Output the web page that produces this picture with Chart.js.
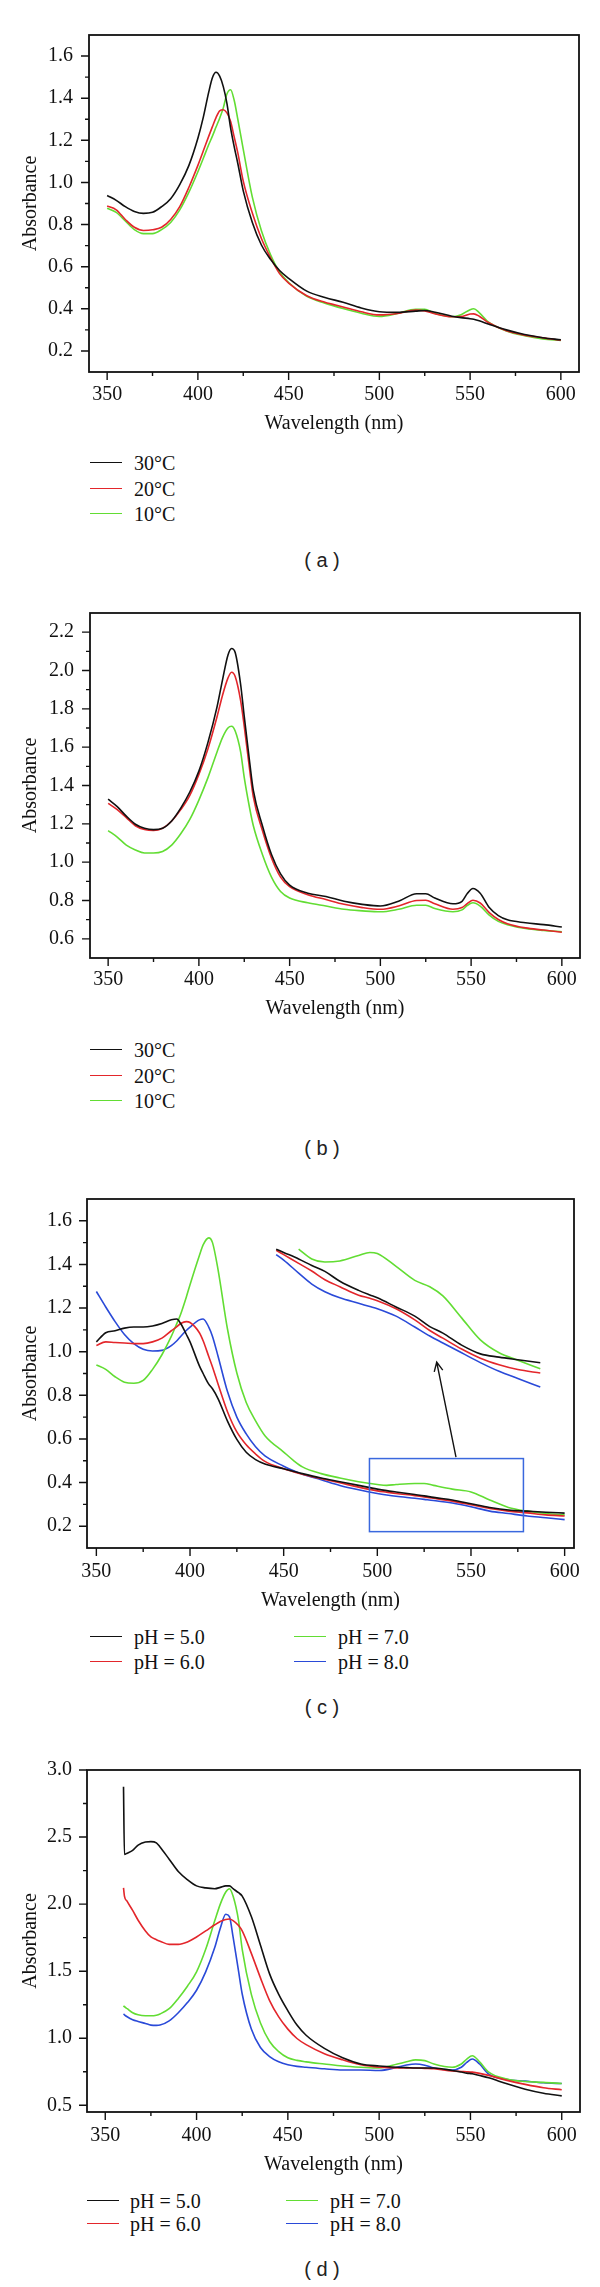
<!DOCTYPE html>
<html>
<head>
<meta charset="utf-8">
<script src="https://cdn.jsdelivr.net/npm/chart.js@4.4.1/dist/chart.umd.min.js"></script>
<style>
  body { margin: 0; background: #fff; }
  #page { position: relative; width: 600px; height: 2287px; overflow: hidden; font-family: "Liberation Serif", serif; color: #111; }
  canvas { position: absolute; left: 0; }
  .leg { position: absolute; font-size: 20px; line-height: 20px; white-space: nowrap; }
  .seg { position: absolute; height: 0; border-top: 1.5px solid; }
  .cap { position: absolute; left: 272px; width: 100px; text-align: center; font-family: "Liberation Sans", sans-serif; font-size: 20px; line-height: 24px; color: #222; }
</style>
</head>
<body>
<div id="page"></div>
<script>
// ---- data ----
const xTicks = [350, 400, 450, 500, 550, 600];
const yTicksA = [0.2, 0.4, 0.6, 0.8, 1.0, 1.2, 1.4, 1.6];
const yTicksB = [0.6, 0.8, 1.0, 1.2, 1.4, 1.6, 1.8, 2.0, 2.2];
const yTicksC = [0.2, 0.4, 0.6, 0.8, 1.0, 1.2, 1.4, 1.6];
const yTicksD = [0.5, 1.0, 1.5, 2.0, 2.5, 3.0];

const tempLabels = ['30°C', '20°C', '10°C'];
const phLabels = ['pH = 5.0', 'pH = 6.0', 'pH = 7.0', 'pH = 8.0'];

// (a)
const wlA = [350,355,360,365,370,375,380,385,390,395,400,403,406,408,410,412,414,416,418,420,422,425,430,435,440,445,450,460,470,480,490,500,510,520,525,530,540,545,550,552,555,560,570,580,590,600];
const a30 = [.938,.915,.885,.862,.853,.858,.885,.923,.99,1.08,1.21,1.31,1.43,1.497,1.523,1.505,1.455,1.375,1.26,1.17,1.09,.96,.81,.703,.635,.582,.545,.484,.454,.431,.404,.386,.383,.389,.392,.385,.365,.358,.353,.350,.343,.328,.300,.278,.263,.253];
const a20 = [.888,.87,.824,.787,.772,.775,.787,.824,.885,.976,1.081,1.15,1.22,1.265,1.308,1.34,1.345,1.33,1.29,1.216,1.14,1.006,.855,.734,.643,.567,.522,.462,.431,.409,.386,.371,.378,.394,.390,.378,.362,.363,.375,.376,.365,.335,.296,.275,.262,.251];
const a10 = [.877,.858,.817,.776,.757,.757,.776,.81,.87,.953,1.051,1.115,1.18,1.22,1.263,1.305,1.354,1.42,1.44,1.39,1.30,1.157,.93,.771,.658,.575,.525,.459,.427,.401,.379,.364,.378,.398,.398,.380,.362,.372,.396,.400,.382,.338,.295,.272,.257,.250];

// (b)
const wlB = [350,355,360,365,370,375,380,385,390,395,400,405,410,413,416,418,420,423,425,428,430,435,440,445,450,460,470,480,490,500,510,520,525,530,540,545,548,551,555,560,565,570,580,590,600];
const b30 = [1.329,1.29,1.24,1.198,1.177,1.17,1.177,1.215,1.282,1.366,1.475,1.625,1.81,1.95,2.08,2.115,2.094,1.927,1.759,1.52,1.374,1.19,1.04,.939,.88,.838,.821,.796,.78,.771,.796,.835,.835,.813,.783,.796,.838,.863,.838,.763,.721,.699,.684,.674,.662];
const b20 = [1.307,1.274,1.232,1.19,1.17,1.165,1.177,1.215,1.274,1.349,1.458,1.592,1.759,1.87,1.96,1.991,1.969,1.843,1.709,1.48,1.341,1.165,1.022,.922,.872,.83,.805,.78,.763,.754,.771,.80,.801,.783,.754,.763,.785,.801,.787,.737,.701,.679,.657,.646,.634];
const b10 = [1.165,1.131,1.089,1.064,1.048,1.048,1.056,1.089,1.148,1.223,1.324,1.441,1.575,1.65,1.70,1.709,1.684,1.575,1.441,1.28,1.19,1.04,.922,.847,.813,.788,.771,.754,.746,.741,.754,.775,.775,.758,.741,.751,.775,.788,.771,.724,.691,.674,.654,.644,.637];

// (c)
const wlC = [350,355,360,365,370,375,380,385,390,393,395,398,400,405,407,410,412,415,420,425,430,435,440,450,455,460,470,480,490,500,505,510,520,525,530,540,550,560,570,580,590,600];
const c5 = [1.045,1.087,1.096,1.108,1.113,1.113,1.118,1.129,1.146,1.15,1.129,1.08,1.045,.935,.9,.851,.83,.784,.682,.598,.539,.505,.485,.463,.452,.441,.421,.404,.387,.37,.363,.357,.345,.339,.332,.32,.303,.286,.274,.269,.264,.26];
const c6 = [1.028,1.045,1.042,1.04,1.037,1.037,1.045,1.062,1.096,1.115,1.129,1.138,1.134,1.087,1.05,.978,.93,.851,.725,.632,.573,.531,.497,.463,.45,.438,.418,.399,.379,.362,.356,.35,.34,.334,.328,.315,.298,.281,.269,.261,.252,.247];
const c7 = [.939,.919,.885,.86,.855,.868,.919,.986,1.07,1.13,1.172,1.25,1.307,1.441,1.49,1.522,1.5,1.374,1.104,.902,.767,.683,.615,.54,.503,.472,.441,.421,.404,.391,.387,.391,.396,.396,.387,.37,.357,.32,.286,.269,.258,.252];
const c8 = [1.276,1.205,1.138,1.079,1.037,1.011,1.003,1.006,1.028,1.05,1.07,1.097,1.113,1.146,1.15,1.113,1.07,.978,.817,.70,.623,.564,.522,.475,.455,.438,.413,.387,.367,.35,.343,.337,.328,.323,.318,.306,.289,.269,.258,.247,.239,.23];
// (c) magnified inset, read in main-axis units
const wlInset = [446,450,458,465,472,480,490,496,500,510,520,528,535,545,555,565,575,587];
const i5 = [1.47,1.455,1.425,1.395,1.368,1.323,1.281,1.26,1.247,1.205,1.163,1.115,1.085,1.03,.99,.975,.963,.949];
const i6 = [1.465,1.445,1.405,1.37,1.33,1.298,1.259,1.245,1.234,1.197,1.146,1.097,1.062,1.012,.97,.94,.918,.902];
const i7 = [null,null,1.47,1.425,1.411,1.416,1.441,1.455,1.45,1.391,1.327,1.298,1.256,1.155,1.054,.995,.961,.922];
const i8 = [1.445,1.42,1.36,1.31,1.275,1.247,1.222,1.207,1.197,1.163,1.113,1.072,1.04,.995,.95,.91,.877,.838];

// (d)
const wlD = [360,360.5,362,365,368,372,375,378,380,385,390,395,400,405,410,413,416,418,420,423,425,430,435,440,445,450,455,460,470,480,490,500,510,515,520,525,530,540,545,548,551,555,560,570,580,590,600];
const d5 = [2.875,2.371,2.38,2.40,2.44,2.463,2.466,2.457,2.426,2.335,2.243,2.182,2.136,2.121,2.115,2.125,2.136,2.136,2.115,2.085,2.06,1.907,1.694,1.48,1.327,1.205,1.098,1.022,.924,.854,.808,.793,.784,.781,.778,.778,.778,.76,.748,.74,.735,.722,.705,.66,.62,.59,.57];
const d6 = [2.121,2.06,2.02,1.953,1.88,1.80,1.755,1.735,1.724,1.70,1.70,1.718,1.755,1.80,1.846,1.87,1.886,1.889,1.877,1.84,1.80,1.633,1.45,1.281,1.159,1.068,.998,.952,.885,.839,.802,.784,.778,.778,.778,.775,.772,.756,.752,.75,.747,.738,.723,.686,.656,.631,.616];
const d7 = [1.242,1.235,1.22,1.19,1.175,1.168,1.168,1.172,1.181,1.22,1.297,1.388,1.495,1.663,1.877,2.0,2.09,2.115,2.06,1.877,1.663,1.327,1.114,.976,.9,.854,.835,.824,.808,.793,.784,.778,.808,.824,.839,.833,.808,.784,.808,.845,.869,.824,.747,.695,.677,.671,.662];
const d8 = [1.181,1.175,1.16,1.138,1.125,1.11,1.098,1.096,1.098,1.129,1.19,1.266,1.358,1.495,1.678,1.82,1.925,1.907,1.755,1.5,1.33,1.068,.931,.863,.824,.802,.79,.784,.772,.763,.763,.759,.784,.80,.808,.799,.778,.763,.784,.82,.845,.808,.732,.692,.68,.668,.662];

// ---- styles ----
const BLACK = '#111111', RED = '#e3262b', GREEN = '#62dd33', BLUE = '#2a4ad8';
const FONT = 'Liberation Serif';

const panels = [
  { top: 21, bottom: 372, left: 89, right: 579, xMin: 340, xMax: 610, yMin: 0.1, yMax: 1.7, yTicks: yTicksA, yMinor: 0.1,
    wl: wlA, series: [a30, a20, a10], colors: [BLACK, RED, GREEN], lbGap: 11, ttGap: 1, ylPad: 16 },
  { top: 599, bottom: 958, left: 90, right: 580, xMin: 340, xMax: 610, yMin: 0.5, yMax: 2.3, yTicks: yTicksB, yMinor: 0.1,
    wl: wlB, series: [b30, b20, b10], colors: [BLACK, RED, GREEN], lbGap: 10, ttGap: 2, ylPad: 16 },
  { top: 1186, bottom: 1548, left: 87, right: 574, xMin: 345, xMax: 605, yMin: 0.1, yMax: 1.7, yTicks: yTicksC, yMinor: 0.1,
    wl: wlC, series: [c5, c6, c7, c8], colors: [BLACK, RED, GREEN, BLUE], lbGap: 12, ttGap: 0, ylPad: 15,
    inset: { wl: wlInset, series: [i5, i6, i7, i8] },
    box: { x0: 495.8, x1: 578, y0: 0.175, y1: 0.51 }, arrow: { from: [542, 0.517], to: [531.7, 0.952] } },
  { top: 1757, bottom: 2112, left: 87, right: 580, xMin: 340, xMax: 610, yMin: 0.45, yMax: 3.0, yTicks: yTicksD, yMinor: 0.25,
    wl: wlD, series: [d5, d6, d7, d8], colors: [BLACK, RED, GREEN, BLUE], lbGap: 12, ttGap: 0, ylPad: 15 }
];

function minors(majors, step, min, max) {
  const out = [];
  const half = step;
  for (let i = 0; i < majors.length; i++) {
    const a = majors[i] - half, b = majors[i] + half;
    if (i === 0 && a > min + 1e-6) out.push(a);
    if (b < max - 1e-6 && (i < majors.length - 1 || true)) out.push(b);
  }
  return out.filter(v => !majors.some(m => Math.abs(m - v) < 1e-6));
}

const framePlugin = {
  id: 'frame',
  afterDatasetsDraw(chart, args, o) {
    const { ctx, chartArea: a } = chart;
    const x = chart.scales.x, y = chart.scales.y;
    ctx.save();
    ctx.strokeStyle = BLACK;
    ctx.lineWidth = 1.4;
    ctx.beginPath();
    xTicks.forEach(v => { const p = x.getPixelForValue(v); ctx.moveTo(p, a.bottom); ctx.lineTo(p, a.bottom + 8); });
    minors(xTicks, 25, x.min, x.max).forEach(v => { const p = x.getPixelForValue(v); ctx.moveTo(p, a.bottom); ctx.lineTo(p, a.bottom + 4); });
    o.yTicks.forEach(v => { const p = y.getPixelForValue(v); ctx.moveTo(a.left, p); ctx.lineTo(a.left - 8, p); });
    minors(o.yTicks, o.yMinor, y.min, y.max).forEach(v => { const p = y.getPixelForValue(v); ctx.moveTo(a.left, p); ctx.lineTo(a.left - 4, p); });
    ctx.stroke();
    ctx.lineWidth = 1.8;
    ctx.strokeRect(a.left, a.top, a.right - a.left, a.bottom - a.top);
    if (o.box) {
      const b = o.box;
      ctx.strokeStyle = '#3a68de';
      ctx.lineWidth = 1.5;
      const x0 = x.getPixelForValue(b.x0), x1 = x.getPixelForValue(b.x1);
      const y0 = y.getPixelForValue(b.y1), y1 = y.getPixelForValue(b.y0);
      ctx.strokeRect(x0, y0, x1 - x0, y1 - y0);
    }
    if (o.arrow) {
      const fx = x.getPixelForValue(o.arrow.from[0]), fy = y.getPixelForValue(o.arrow.from[1]);
      const tx = x.getPixelForValue(o.arrow.to[0]), ty = y.getPixelForValue(o.arrow.to[1]);
      const ang = Math.atan2(ty - fy, tx - fx);
      ctx.strokeStyle = BLACK;
      ctx.lineWidth = 1.4;
      ctx.beginPath();
      ctx.moveTo(fx, fy); ctx.lineTo(tx, ty);
      ctx.moveTo(tx - 10 * Math.cos(ang - 0.45), ty - 10 * Math.sin(ang - 0.45));
      ctx.lineTo(tx, ty);
      ctx.lineTo(tx - 10 * Math.cos(ang + 0.45), ty - 10 * Math.sin(ang + 0.45));
      ctx.stroke();
    }
    ctx.restore();
  }
};

const page = document.getElementById('page');
const PAD_TOP = 14, BELOW = 65;

function toPoints(wl, vals) {
  return wl.map((w, i) => ({ x: w, y: vals[i] }));
}

function makeLine(wl, vals, color) {
  return {
    data: toPoints(wl, vals),
    borderColor: color,
    borderWidth: 1.6,
    pointRadius: 0,
    cubicInterpolationMode: 'monotone',
    fill: false
  };
}

panels.forEach(p => {
  const cv = document.createElement('canvas');
  const h = p.bottom - p.top + PAD_TOP + BELOW;
  cv.width = 600; cv.height = h;
  cv.style.top = (p.top - PAD_TOP) + 'px';
  page.appendChild(cv);

  const datasets = p.series.map((s, i) => makeLine(p.wl, s, p.colors[i]));
  if (p.inset) {
    p.inset.series.forEach((s, i) => datasets.push(makeLine(p.inset.wl, s, p.colors[i])));
  }

  new Chart(cv, {
    type: 'line',
    data: { datasets },
    options: {
      responsive: false,
      animation: false,
      events: [],
      layout: { padding: { top: PAD_TOP, left: 0, right: 600 - p.right, bottom: 0 } },
      plugins: {
        legend: { display: false },
        tooltip: { enabled: false },
        frame: { yTicks: p.yTicks, yMinor: p.yMinor, box: p.box, arrow: p.arrow }
      },
      scales: {
        x: {
          type: 'linear', position: 'bottom', min: p.xMin, max: p.xMax,
          afterFit: s => { s.height = BELOW; },
          afterBuildTicks: s => { s.ticks = xTicks.map(v => ({ value: v })); },
          grid: { display: false, drawTicks: false },
          border: { display: false },
          ticks: { autoSkip: false, maxRotation: 0, padding: p.lbGap, color: BLACK, font: { family: FONT, size: 20 }, callback: v => String(v) },
          title: { display: true, text: 'Wavelength (nm)', color: BLACK, font: { family: FONT, size: 20 }, padding: { top: 0, bottom: p.ttGap } }
        },
        y: {
          type: 'linear', min: p.yMin, max: p.yMax,
          afterFit: s => { s.width = p.left; },
          afterBuildTicks: s => { s.ticks = p.yTicks.map(v => ({ value: v })); },
          grid: { display: false, drawTicks: false },
          border: { display: false },
          ticks: { autoSkip: false, padding: p.ylPad, color: BLACK, font: { family: FONT, size: 20 }, callback: v => v.toFixed(1) },
          title: { display: true, text: 'Absorbance', color: BLACK, font: { family: FONT, size: 20 }, padding: { top: 19, bottom: 0 } }
        }
      }
    },
    plugins: [framePlugin]
  });
});

// ---- legends and captions (HTML) ----
function legendItem(label, color, lineX, textX, cy, lineW) {
  const seg = document.createElement('div');
  seg.className = 'seg';
  seg.style.left = lineX + 'px';
  seg.style.width = lineW + 'px';
  seg.style.top = (cy - 0.75) + 'px';
  seg.style.borderTopColor = color;
  page.appendChild(seg);
  const t = document.createElement('div');
  t.className = 'leg';
  t.textContent = label;
  t.style.left = textX + 'px';
  t.style.top = (cy - 10) + 'px';
  page.appendChild(t);
}

const tempColors = [BLACK, RED, GREEN];
const phColors = [BLACK, RED, GREEN, BLUE];
[[463, 489, 514], [1050, 1076, 1101]].forEach(rows => {
  tempLabels.forEach((l, i) => legendItem(l, tempColors[i], 90, 134, rows[i], 32));
});
// pH legends: two columns
[[1637, 1662, 90, 134, 294, 338], [2201, 2224, 87, 130, 286, 330]].forEach(([r0, r1, l1, t1, l2, t2]) => {
  legendItem(phLabels[0], phColors[0], l1, t1, r0, 32);
  legendItem(phLabels[1], phColors[1], l1, t1, r1, 32);
  legendItem(phLabels[2], phColors[2], l2, t2, r0, 32);
  legendItem(phLabels[3], phColors[3], l2, t2, r1, 32);
});

[['( a )', 562], ['( b )', 1150], ['( c )', 1709], ['( d )', 2271]].forEach(([txt, cy]) => {
  const c = document.createElement('div');
  c.className = 'cap';
  c.textContent = txt;
  c.style.top = (cy - 14) + 'px';
  page.appendChild(c);
});
</script>
</body>
</html>
